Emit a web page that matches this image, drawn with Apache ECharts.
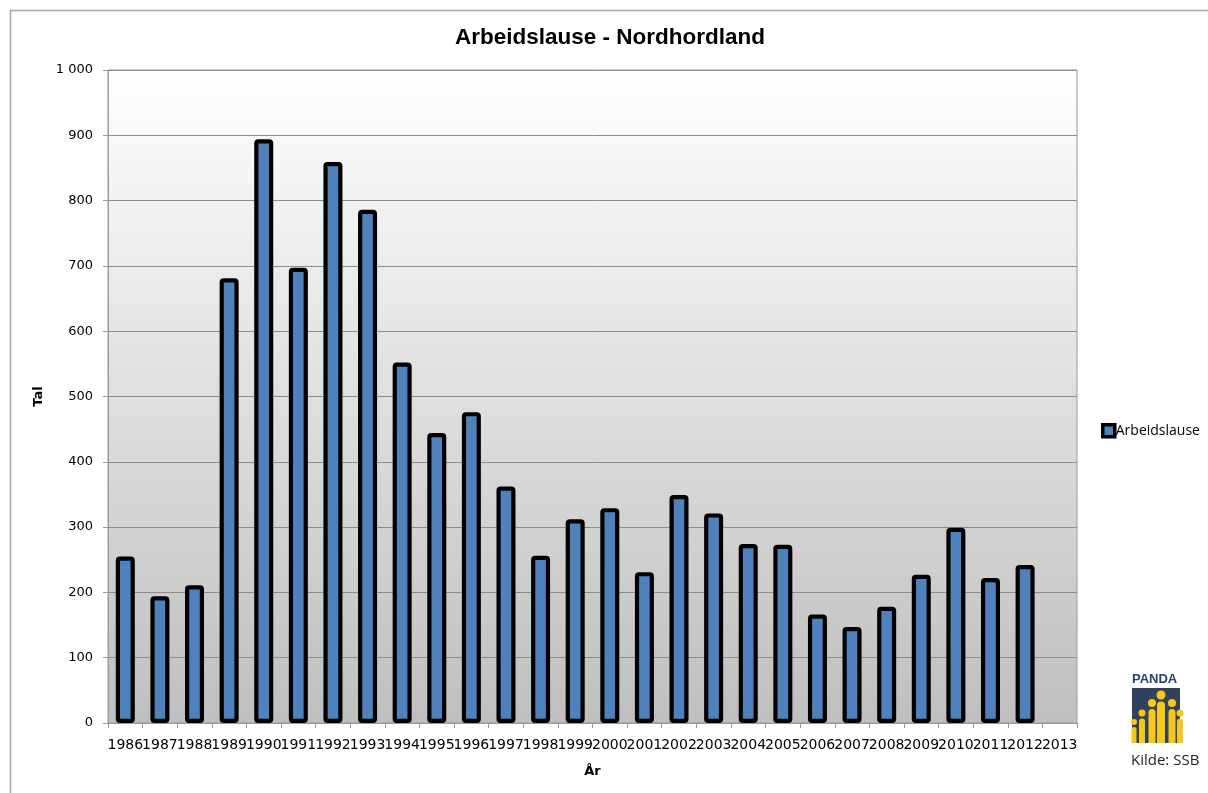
<!DOCTYPE html>
<html>
<head>
<meta charset="utf-8">
<style>
  html, body { margin: 0; padding: 0; background: #fff; }
  #chart { width: 1208px; height: 793px; }
</style>
<script src="https://cdn.jsdelivr.net/npm/echarts@6/dist/echarts.min.js"></script>
</head>
<body>
<div id="chart"></div>
<script>
const years = ['1986', '1987', '1988', '1989', '1990', '1991', '1992', '1993', '1994', '1995',
  '1996', '1997', '1998', '1999', '2000', '2001', '2002', '2003', '2004', '2005',
  '2006', '2007', '2008', '2009', '2010', '2011', '2012', '2013'];
const unemployed = [255, 194, 211, 681, 894, 697, 859, 786, 552, 444,
  476, 362, 256, 312, 329, 231, 349, 321, 274, 273,
  166, 147, 178, 227, 299, 222, 242, null];
const seriesName = 'Arbeidslause';
const titleText = 'Arbeidslause - Nordhordland';

const chart = echarts.init(document.getElementById('chart'));

// PANDA logo figures: [centre x, head centre y, head radius]
const figures = [
  [1134, 722, 3], [1142, 713, 3.5], [1152, 703, 4], [1161, 695, 4.5],
  [1172, 703, 4], [1180, 713, 3.5],
];
const logoBottom = 743;

chart.setOption({
  backgroundColor: '#fff',
  animation: false,
  title: {
    text: titleText,
    left: 450,
    top: 21,
    textStyle: { fontFamily: 'Liberation Sans', fontWeight: 'bold', fontSize: 22.5, color: '#000' },
  },
  legend: {
    left: 1096,
    top: 418,
    orient: 'vertical',
    itemWidth: 12,
    itemHeight: 12,
    textStyle: { fontFamily: 'Open Sans', fontSize: 14, color: '#000', padding: [0, 0, 0, -4] },
    data: [{
      name: seriesName,
      icon: 'rect',
      itemStyle: { color: '#4f81bd', borderColor: '#000', borderWidth: 3.5 },
    }],
  },
  grid: {
    left: 108,
    right: 131,
    top: 70,
    bottom: 70,
    show: true,
    borderColor: '#9a9a9a',
    borderWidth: 1,
    backgroundColor: {
      type: 'linear', x: 0, y: 0, x2: 0, y2: 1,
      colorStops: [{ offset: 0, color: '#ffffff' }, { offset: 1, color: '#bfbfbf' }],
    },
  },
  xAxis: {
    type: 'category',
    data: years,
    name: 'År',
    nameLocation: 'middle',
    nameGap: 42,
    nameTextStyle: { fontFamily: 'DejaVu Sans', fontWeight: 'bold', fontSize: 13, color: '#000' },
    axisLine: { lineStyle: { color: '#9a9a9a' } },
    axisTick: { show: true, length: 5, lineStyle: { color: '#9a9a9a' } },
    axisLabel: { interval: 0, margin: 15, fontFamily: 'DejaVu Sans', fontSize: 14, color: '#000' },
  },
  yAxis: {
    type: 'value',
    min: 0,
    max: 1000,
    interval: 100,
    name: 'Tal',
    nameLocation: 'middle',
    nameGap: 62,
    nameTextStyle: { fontFamily: 'DejaVu Sans', fontWeight: 'bold', fontSize: 13, color: '#000' },
    axisLine: { show: true, lineStyle: { color: '#9a9a9a' } },
    axisTick: { show: true, length: 5, lineStyle: { color: '#9a9a9a' } },
    axisLabel: {
      margin: 15,
      fontFamily: 'DejaVu Sans',
      fontSize: 13,
      color: '#000',
      formatter: (v) => (v >= 1000 ? '1 000' : String(v)),
    },
    splitLine: { lineStyle: { color: '#8c8c8c', width: 1 } },
  },
  series: [{
    name: seriesName,
    type: 'bar',
    data: unemployed,
    barWidth: 19,
    itemStyle: { color: '#4f81bd', borderColor: '#000', borderWidth: 4.2, borderRadius: 2 },
  }],
  graphic: [
    {
      type: 'rect',
      silent: true,
      shape: { x: 10.5, y: 10.5, width: 1300, height: 900 },
      style: { fill: 'none', stroke: '#a6a6a6', lineWidth: 1.5 },
    },
    {
      type: 'text',
      silent: true,
      style: { x: 1132, y: 673, text: 'PANDA', font: 'bold 13px "Liberation Sans"', fill: '#27406e' },
    },
    {
      type: 'rect',
      silent: true,
      shape: { x: 1132, y: 688, width: 48, height: logoBottom - 688 },
      style: { fill: '#34415c' },
    },
    ...figures.map(([cx, cy, r]) => ({
      type: 'rect',
      silent: true,
      shape: { x: cx - r + 0.5, y: cy + r + 2, width: 2 * r - 1, height: logoBottom - cy - r - 2, r: [r, r, 0, 0] },
      style: { fill: '#f6c81c' },
    })),
    ...figures.map(([cx, cy, r]) => ({
      type: 'circle',
      silent: true,
      shape: { cx, cy, r },
      style: { fill: '#f6c81c' },
    })),
    {
      type: 'text',
      silent: true,
      style: { x: 1131, y: 753, text: 'Kilde: SSB', font: '15px "Open Sans"', fill: '#222' },
    },
  ],
});
</script>
</body>
</html>
